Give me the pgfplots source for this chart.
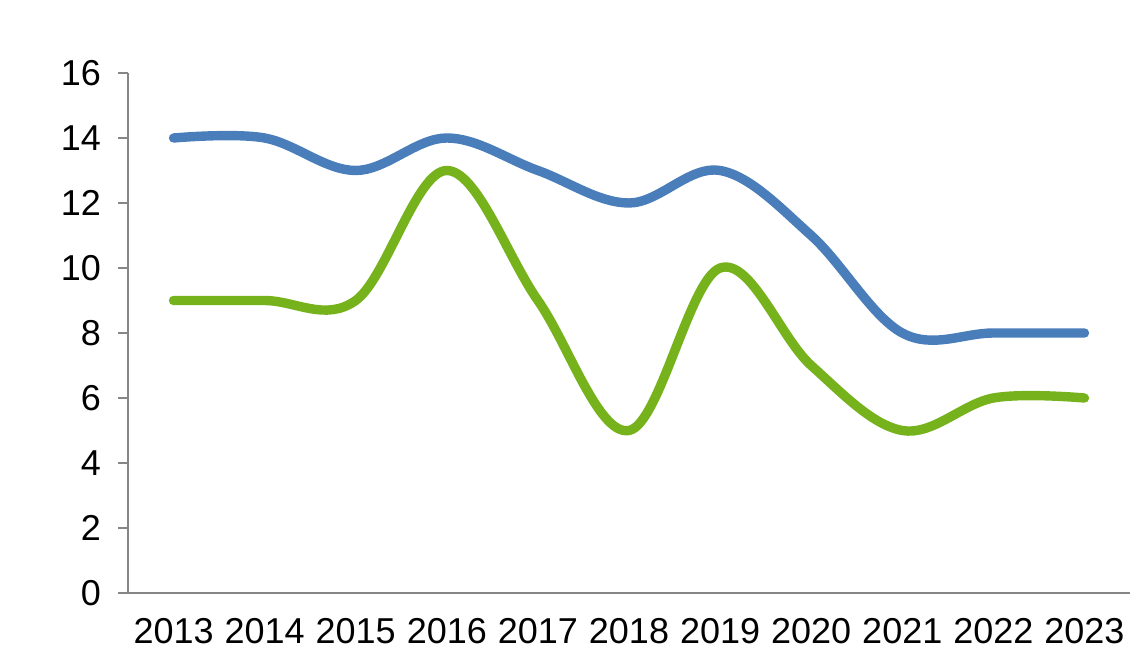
\documentclass[border=0pt]{standalone}
\usepackage{pgfplots}
\pgfplotsset{compat=1.18}
\usepackage{fontspec}
\setmainfont{Liberation Sans}
\definecolor{serA}{HTML}{4A7EBB}
\definecolor{serB}{HTML}{76B21C}
\definecolor{axgray}{HTML}{868686}
\begin{document}
\begin{tikzpicture}
\begin{axis}[
    scale only axis,
    width=501pt,
    height=260pt,
    xmin=-0.5, xmax=10.5,
    ymin=0, ymax=16,
    ytick={0,2,...,16},
    xtick={0,...,10},
    xticklabels={2013,2014,2015,2016,2017,2018,2019,2020,2021,2022,2023},
    minor xtick={-0.5,0.5,...,10.5},
    axis lines*=left,
    axis line style={axgray, line width=1pt},
    every tick/.style={axgray, line width=1pt},
    tick align=outside,
    major tick length=5pt,
    minor tick length=5pt,
    x tick style={draw=none},
    minor x tick style={axgray, line width=1pt},
    tick label style={font=\fontsize{18}{21}\selectfont},
    yticklabel style={xshift=-5pt},
    xticklabel style={yshift=-4pt},
    /pgf/number format/assume math mode=true,
    clip=false,
]
\addplot[serA, line width=4.7pt, line cap=round, smooth, tension=0.6] coordinates {
    (0,14) (1,14) (2,13) (3,14) (4,13) (5,12) (6,13) (7,11) (8,8) (9,8) (10,8)
};
\addplot[serB, line width=4.7pt, line cap=round, smooth, tension=0.6] coordinates {
    (0,9) (1,9) (2,9) (3,13) (4,9) (5,5) (6,10) (7,7) (8,5) (9,6) (10,6)
};
\end{axis}
\path (current axis.south west) ++(-64pt,-34.5pt) coordinate (bl);
\path (current axis.north east) ++(9pt,36.5pt) coordinate (tr);
\path (bl) rectangle (tr);
\end{tikzpicture}
\end{document}
